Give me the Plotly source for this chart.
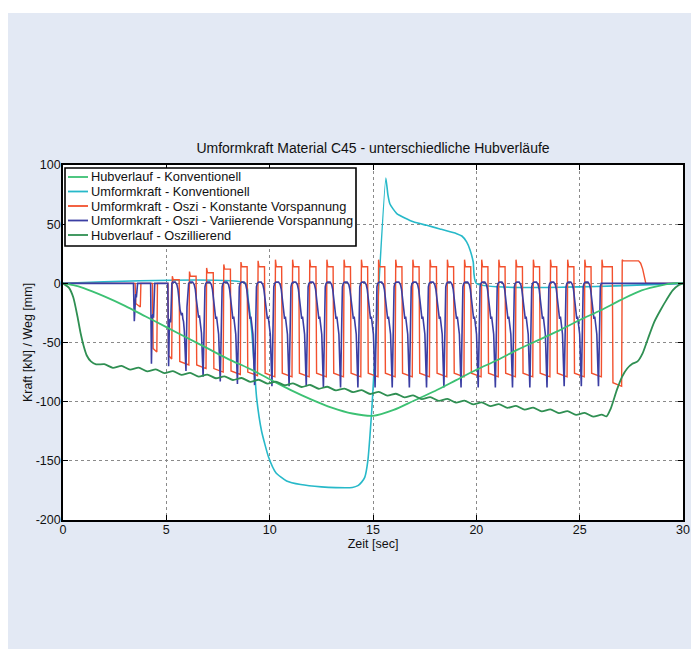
import plotly.graph_objects as go

# ---------------- data ----------------
x_ticks = [0, 5, 10, 15, 20, 25, 30]
y_ticks = [-200, -150, -100, -50, 0, 50, 100]

series_names = [
    "Hubverlauf - Konventionell",
    "Umformkraft - Konventionell",
    "Umformkraft - Oszi - Konstante Vorspannung",
    "Umformkraft - Oszi - Variierende Vorspannung",
    "Hubverlauf - Oszillierend",
]

# Hubverlauf - Konventionell
t_hub_konv = [0, 0.5, 1, 2, 3, 4, 5, 6, 7, 8, 9, 10, 11, 12, 13, 14, 15, 16, 17,
              18, 19, 20, 21, 22, 23, 24, 25, 26, 27, 28, 29, 29.5, 30]
v_hub_konv = [0, -1.5, -4, -11, -19, -28, -37, -46, -55, -64, -72, -81, -90, -98,
              -105, -110, -112, -107, -99, -91, -82, -73, -65, -56, -48, -40, -31,
              -23, -14, -6, -1.5, 0, 0]

# Umformkraft - Konventionell
t_umf_konv = [0, 8.85, 8.95, 9.13, 9.37, 9.61, 9.95, 10.3, 10.82, 11.5, 12.5, 13.2,
              14.0, 14.27, 14.45, 14.6, 14.75, 14.93, 15.62, 15.72, 15.82, 16.15,
              16.95, 17.6, 18.24, 19.05, 19.3, 19.53, 19.7, 19.85, 20.0, 30]
v_umf_konv = [0, 0, -12, -40, -97, -125, -147, -160, -167, -170, -172, -172.6,
              -172.5, -171, -168, -164, -150, -110, 89, 75, 67, 59, 52, 49, 46, 42,
              40, 35, 28, 18, 0, 0]

# Oszi cycles: time of each blue minimum and its depth
dip_t = [3.45, 4.28, 5.11, 5.95, 6.78, 7.61, 8.44, 9.27, 10.11, 10.94, 11.77,
         12.60, 13.43, 14.27, 15.10, 15.93, 16.76, 17.59, 18.43, 19.26, 20.09,
         20.92, 21.75, 22.59, 23.42, 24.25, 25.08, 25.91]
blue_min = [-32, -68, -70, -74, -79, -83, -85, -86, -87, -87, -87, -88, -88, -88,
            -88, -88, -88, -88, -88, -88, -88, -88, -88, -88, -88, -87, -87, -87]
blue_hook_up = [-9, -26, -30] + [None] * 25
blue_notch = [None, None, None, -30, -32] + [-33] * 23

# Konstante Vorspannung: low phases
red_fall_t = [3.49, 4.33, 5.08, 5.62, 6.44, 7.27, 8.10, 8.91, 9.75, 10.58, 11.41,
              12.24, 13.07, 13.91, 14.74, 15.57, 16.40, 17.23, 18.07, 18.90, 19.73,
              20.56, 21.39, 22.23, 23.06, 23.89, 24.72, 25.55, 26.58]
red_rise_t = [3.76, 4.56, 5.28, 6.11, 6.94, 7.77, 8.60, 9.43, 10.27, 11.10, 11.93,
              12.76, 13.59, 14.43, 15.26, 16.09, 16.92, 17.75, 18.59, 19.42, 20.25,
              21.08, 21.91, 22.75, 23.58, 24.41, 25.24, 26.07, 27.05]
red_low = [-17, -55, -61, -66, -69, -72, -74, -75, -76, -76, -76, -76, -76, -76,
           -76, -76, -76, -76, -76, -76, -76, -76, -76, -76, -76, -76, -76, -76, -84]
red_peak = [0, 0, 6, 10, 13, 16, 18, 19, 20, 20, 20, 20, 20, 20, 20, 20, 20, 20,
            20, 20, 20, 20, 20, 20, 20, 20, 20, 20, 20]
red_plateau = [0, 0, 3, 6, 9, 12, 14, 14, 14, 14, 14, 14, 14, 14, 14, 14, 14, 14,
               14, 14, 14, 14, 14, 14, 14, 14, 14, 14, 19]
red_tail_t = [27.85, 27.95, 28.05, 28.12, 28.2, 30]
red_tail_v = [19, 17, 12, 6, 0, 0]

# Hubverlauf - Oszillierend
t_hub_osz = [0, 0.3, 0.5, 0.7, 0.85, 1.0, 1.15, 1.35, 1.6,
             2.0, 2.415, 2.83, 3.245, 3.66, 4.075, 4.49, 4.905, 5.32, 5.735, 6.15,
             6.565, 6.98, 7.395, 7.81, 8.225, 8.64, 9.055, 9.47, 9.885, 10.3,
             10.715, 11.13, 11.545, 11.96, 12.375, 12.79, 13.205, 13.62, 14.035,
             14.45, 14.865, 15.28, 15.695, 16.11, 16.525, 16.94, 17.355, 17.77,
             18.185, 18.6, 19.015, 19.43, 19.845, 20.26, 20.675, 21.09, 21.505,
             21.92, 22.335, 22.75, 23.165, 23.58, 23.995, 24.41, 24.825, 25.24,
             25.655, 26.07, 26.3, 26.5, 26.8, 27.05, 27.3, 27.55, 27.8, 28.05,
             28.3, 28.6, 28.9, 29.2, 29.5, 29.8, 30]
v_hub_osz = [0, -4, -12, -28, -42, -53, -61, -66, -68.5,
             -68.3, -71.4, -69.8, -72.9, -71.2, -74.4, -72.7, -75.8, -74.2, -77.3,
             -75.6, -78.8, -77.1, -80.2, -78.6, -81.7, -80.0, -83.2, -81.5, -84.7,
             -83.0, -86.1, -84.5, -87.6, -85.9, -89.1, -87.4, -90.5, -88.9, -92.0,
             -90.3, -93.5, -91.8, -94.9, -93.3, -96.4, -94.7, -97.9, -96.2, -99.3,
             -97.7, -100.8, -99.2, -102.3, -100.6, -103.8, -102.1, -105.2, -103.6,
             -106.7, -105.0, -108.2, -106.5, -109.6, -108.0, -111.1, -109.4, -112.6,
             -111.0, -112.5, -106, -90, -79, -72, -68, -66, -59, -47, -33, -23, -14,
             -6, -1.5, 0]

colors = ["#3cc173", "#27b9c9", "#f2512e", "#3b3ea3", "#2f8f52"]

# ---------------- build oscillating traces from cycle values ----------------
bt, bv = [0.0, dip_t[0] - 0.04], [0.0, 0.0]
for k, d in enumerate(dip_t):
    bt.append(d); bv.append(blue_min[k])
    h = blue_hook_up[k]
    if h is not None:
        bt += [d + 0.04, d + 0.07, d + 0.10, d + 0.16]
        bv += [h - 2, h, h - 3, 0]
    else:
        bt += [d + 0.05, d + 0.09, d + 0.13]
        bv += [-20, -3, 0]
    if k + 1 < len(dip_t):
        d2 = dip_t[k + 1]
        nt = blue_notch[k + 1]
        if nt is None:
            bt += [d2 - 0.04]; bv += [0]
        else:
            bt += [d + 0.20, d + 0.32, d + 0.40, d + 0.45, d + 0.50, d + 0.55,
                   d2 - 0.22, d2 - 0.18, d2 - 0.15, d2 - 0.12, d2 - 0.08]
            bv += [1, 1, -1, -5, -13, -22, nt + 3, nt + 5, nt, nt - 2, nt - 10]
    else:
        bt.append(30); bv.append(0)

rt, rv = [0.0], [0.0]
for k in range(len(red_fall_t)):
    f, r = red_fall_t[k], red_rise_t[k]
    rt += [f, f + 0.03, r - 0.02, r + 0.01, r + 0.05]
    prev = red_plateau[k - 1] if k > 0 else 0
    rv += [prev, red_low[k], red_low[k] - 3, red_peak[k], red_plateau[k]]
rt += red_tail_t
rv += red_tail_v

fig = go.Figure()
fig.add_trace(go.Scatter(x=t_umf_konv, y=v_umf_konv, name=series_names[1], mode="lines",
                         line=dict(color=colors[1], width=1.6, shape="spline", smoothing=0.5)))
fig.add_trace(go.Scatter(x=rt, y=rv, name=series_names[2], mode="lines",
                         line=dict(color=colors[2], width=1.4)))
fig.add_trace(go.Scatter(x=bt, y=bv, name=series_names[3], mode="lines",
                         line=dict(color=colors[3], width=1.6)))
fig.add_trace(go.Scatter(x=t_hub_konv, y=v_hub_konv, name=series_names[0], mode="lines",
                         line=dict(color=colors[0], width=1.8, shape="spline", smoothing=0.8)))
fig.add_trace(go.Scatter(x=t_hub_osz, y=v_hub_osz, name=series_names[4], mode="lines",
                         line=dict(color=colors[4], width=1.8, shape="spline", smoothing=0.6)))

# geometry of the plot area in figure pixels (page adds an 8 px offset)
FW, FH = 699, 649
PL, PR, PT, PB = 55, 675, 157, 512
W, H = PR - PL, PB - PT
def px(x):
    return (x - PL) / W
def py(y):
    return (PB - y) / H

shapes = [
    dict(type="rect", xref="paper", yref="paper", x0=-0.3, x1=1.2, y0=py(5), y1=1.7,
         fillcolor="white", line=dict(width=0), layer="above"),
    dict(type="rect", xref="paper", yref="paper", x0=px(57), x1=px(348), y0=py(238), y1=py(160),
         fillcolor="white", line=dict(color="black", width=1.6), layer="above"),
]
annotations = []
row_y = [169, 183.5, 198, 212.5, 227]
for i, name in enumerate(series_names):
    shapes.append(dict(type="line", xref="paper", yref="paper", x0=px(60), x1=px(80),
                       y0=py(row_y[i]), y1=py(row_y[i]),
                       line=dict(color=colors[i], width=1.8), layer="above"))
    annotations.append(dict(xref="paper", yref="paper", x=px(81), y=py(row_y[i]),
                            text=name, showarrow=False, xanchor="left", yanchor="middle",
                            font=dict(size=12.8, color="#111")))

fig.update_layout(
    width=FW, height=FH,
    margin=dict(l=PL, r=FW - PR, t=PT, b=FH - PB),
    paper_bgcolor="#e3e9f4", plot_bgcolor="white",
    showlegend=False,
    font=dict(family="Liberation Sans, Arial, sans-serif", size=12.5, color="#111"),
    title=dict(text="Umformkraft Material C45 - unterschiedliche Hubverläufe",
               x=0.5, xref="paper", xanchor="center",
               y=1 - 140 / FH, yref="container", yanchor="middle",
               font=dict(size=14, color="#111")),
    shapes=shapes, annotations=annotations,
)
fig.update_xaxes(range=[0, 30], tickmode="array", tickvals=x_ticks,
                 ticktext=[str(v) for v in x_ticks],
                 showgrid=True, gridcolor="#8a8a8a", griddash="dot", gridwidth=1,
                 showline=True, linecolor="black", linewidth=1.6, mirror="ticks",
                 ticks="inside", ticklen=5, tickcolor="black", zeroline=False,
                 tickfont=dict(size=12.5), ticklabelstandoff=-3,
                 title=dict(text="Zeit [sec]", standoff=0, font=dict(size=12.5)))
fig.update_yaxes(range=[-200, 100], tickmode="array", tickvals=y_ticks,
                 ticktext=[str(v) for v in y_ticks],
                 showgrid=True, gridcolor="#8a8a8a", griddash="dot", gridwidth=1,
                 showline=True, linecolor="black", linewidth=1.6, mirror="ticks",
                 ticks="inside", ticklen=5, tickcolor="black", zeroline=False,
                 tickfont=dict(size=12.5), ticklabelstandoff=-2,
                 title=dict(text="Kraft [kN] / Weg [mm]", standoff=0, font=dict(size=12.5)))

fig.write_html("out.html")
